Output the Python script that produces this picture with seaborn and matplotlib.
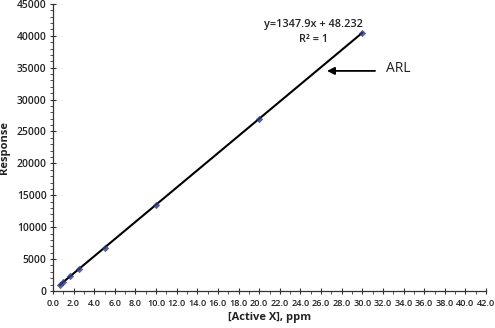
import matplotlib
matplotlib.use("Agg")
import matplotlib.pyplot as plt
import seaborn as sns
import numpy as np
from matplotlib.ticker import MultipleLocator, FormatStrFormatter

concentration = [0.65, 1.0, 1.7, 2.5, 5.0, 10.0, 20.0, 30.0]
response = [930, 1390, 2340, 3420, 6790, 13530, 27010, 40480]
equation_text = "y=1347.9x + 48.232"
r2_text = "R² = 1"
arl_text = "ARL"

sns.set_theme(style="white")
plt.rcParams['font.family'] = ['Open Sans', 'DejaVu Sans']

fig = plt.figure(figsize=(4.95, 3.28), dpi=100)
ax = fig.add_axes([0.107, 0.113, 0.875, 0.875])

sns.regplot(x=concentration, y=response, ax=ax, ci=None, marker='D',
            scatter_kws=dict(s=14, color='#2f3a80', zorder=3, linewidths=0),
            line_kws=dict(color='black', lw=1.5, zorder=2))

ax.set_xlim(0, 42)
ax.set_ylim(0, 45000)
ax.xaxis.set_major_locator(MultipleLocator(2))
ax.xaxis.set_minor_locator(MultipleLocator(1))
ax.yaxis.set_major_locator(MultipleLocator(5000))
ax.yaxis.set_minor_locator(MultipleLocator(1000))
ax.xaxis.set_major_formatter(FormatStrFormatter('%.1f'))

for side in ['top', 'right']:
    ax.spines[side].set_visible(False)
for side in ['left', 'bottom']:
    ax.spines[side].set_color('#333333')
    ax.spines[side].set_linewidth(0.9)

ax.tick_params(which='major', direction='inout', length=5, width=0.8, color='#333333',
               labelcolor='#222222', pad=2)
ax.tick_params(axis='y', which='major', labelsize=7.4)
ax.tick_params(axis='x', which='major', labelsize=6.6, pad=3)
ax.tick_params(which='minor', direction='out', length=2, width=0.6, color='#333333')
ax.tick_params(axis='x', which='both', bottom=True)
ax.tick_params(axis='y', which='both', left=True)
for lab in ax.get_xticklabels() + ax.get_yticklabels():
    lab.set_fontweight('semibold')

ax.set_xlabel('[Active X], ppm', fontsize=8, fontweight='bold', color='#222222', labelpad=3)
ax.set_ylabel('Response', fontsize=8, fontweight='bold', color='#222222', labelpad=5)

ax.text(25.3, 41700, equation_text, fontsize=7.8, fontweight='semibold', ha='center', va='center', color='#222222')
ax.text(25.3, 39400, r2_text, fontsize=7.8, fontweight='semibold', ha='center', va='center', color='#222222')

ax.annotate('', xy=(26.3, 34500), xytext=(31.5, 34500),
            arrowprops=dict(arrowstyle='-|>', color='black', lw=1.3, mutation_scale=11))
ax.text(32.3, 34800, arl_text, fontsize=10, ha='left', va='center', color='#222222')

fig.savefig('out.png', dpi=100)
